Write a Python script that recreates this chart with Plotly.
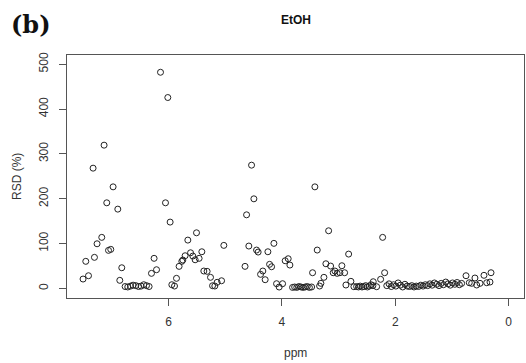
import plotly.graph_objects as go

# ---- data (ppm vs RSD %) ----
ppm_a = [7.507, 7.411, 7.459, 7.330, 7.306, 7.260, 7.177, 7.136, 7.089, 7.058, 7.018, 6.977, 6.894, 6.824, 6.859]
rsd_a = [20.7, 28.1, 60.2, 268.1, 69.1, 99.4, 113.7, 319.4, 190.8, 84.7, 86.9, 226.4, 176.7, 45.9, 17.8]

ppm_b = [6.765, 6.718, 6.670, 6.624, 6.577, 6.529, 6.483, 6.436, 6.388, 6.342]
rsd_b = [4, 3, 5, 7, 6, 4, 5, 8, 6, 4]

ppm_c = [6.300, 6.254, 6.211, 6.141, 6.012, 6.053, 5.971, 5.941, 5.894, 5.859, 5.813, 5.765, 5.747,
         5.707, 5.659, 5.611, 5.571, 5.530, 5.506, 5.460, 5.412, 5.377, 5.319, 5.259, 5.223, 5.183,
         5.142, 5.064, 5.024]
rsd_c = [33.4, 66.9, 41.5, 482.1, 425.7, 190.8, 147.8, 8.0, 5.1, 22.3, 49.0, 60.2, 63.1,
         72.7, 107.6, 79.3, 72.0, 63.7, 123.9, 66.9, 81.6, 38.6, 37.9, 24.5, 5.8, 5.1,
         13.4, 16.9, 95.8]

ppm_d = [4.650, 4.623, 4.583, 4.535, 4.494, 4.447, 4.419, 4.376, 4.336, 4.295, 4.247, 4.217, 4.182,
         4.141, 4.094, 4.048, 3.988, 3.942, 3.889, 3.859]
rsd_d = [49.0, 164.0, 94.3, 274.8, 199.7, 85.4, 80.9, 31.2, 38.6, 19.2, 81.6, 53.5, 48.1,
         100.3, 10.3, 2.9, 10.3, 61.5, 66.0, 51.9]

ppm_e = [3.812, 3.775, 3.738, 3.700, 3.663, 3.626, 3.589, 3.552, 3.515, 3.476]
rsd_e = [2, 3, 2, 4, 3, 2, 3, 4, 2, 3]

ppm_f = [3.459, 3.418, 3.377, 3.335, 3.312, 3.259, 3.224, 3.176, 3.141, 3.095, 3.065, 3.025, 2.977,
         2.942, 2.894, 2.871, 2.823, 2.783, 2.730]
rsd_f = [34.8, 226.4, 85.4, 5.1, 11.1, 24.5, 54.8, 128.4, 49.7, 34.8, 38.6, 33.4, 34.8,
         50.4, 34.8, 7.4, 76.4, 15.6, 3.6]

ppm_g = [2.682, 2.650, 2.619, 2.587, 2.555, 2.523, 2.492, 2.460, 2.428, 2.395,
         2.389, 2.329, 2.259, 2.223, 2.188]
rsd_g = [4, 3, 5, 3, 4, 6, 3, 5, 8, 6,
         14.7, 3.6, 20.1, 113.7, 34.8]

ppm_h = [2.15, 2.11, 2.07, 2.03, 1.99, 1.95, 1.91, 1.87, 1.83, 1.79, 1.75, 1.71, 1.67, 1.63, 1.59,
         1.55, 1.51, 1.47, 1.43, 1.39, 1.35, 1.31, 1.27, 1.23, 1.19, 1.15, 1.11, 1.07, 1.03, 0.99,
         0.95, 0.91, 0.87, 0.83]
rsd_h = [6, 10, 4, 8, 5, 12, 7, 3, 9, 5, 4, 6, 3, 5, 4, 7, 5, 8, 6, 10, 7, 12, 9, 6, 11, 8, 14, 10,
         7, 12, 9, 13, 8, 11]

ppm_i = [0.753, 0.695, 0.653, 0.595, 0.565, 0.506, 0.436, 0.388, 0.330, 0.312]
rsd_i = [28.1, 12.5, 11.1, 23.0, 7.4, 11.1, 29.0, 12.5, 14.0, 34.8]

ppm = ppm_a + ppm_b + ppm_c + ppm_d + ppm_e + ppm_f + ppm_g + ppm_h + ppm_i
rsd = rsd_a + rsd_b + rsd_c + rsd_d + rsd_e + rsd_f + rsd_g + rsd_h + rsd_i

x_ticks = [6, 4, 2, 0]
y_ticks = [0, 100, 200, 300, 400, 500]

W, H = 526, 363
L, R, T, B = 67, 524, 55, 298

fig = go.Figure()
fig.add_trace(go.Scatter(
    x=ppm, y=rsd, mode="markers",
    marker=dict(symbol="circle-open", size=6, color="#222222", line=dict(width=1, color="#222222")),
    hoverinfo="skip", showlegend=False,
))

axis_font = dict(family="Liberation Sans, Arial, sans-serif", size=12, color="#333333")

fig.update_layout(
    width=W, height=H,
    margin=dict(l=L, r=W - R, t=T, b=H - B, pad=0),
    paper_bgcolor="white", plot_bgcolor="white",
    xaxis=dict(range=[7.79, -0.27], tickvals=x_ticks, ticktext=[str(v) for v in x_ticks],
               showgrid=False, zeroline=False, showline=True, mirror=True,
               linecolor="#555555", linewidth=1, ticks="outside", ticklen=7,
               tickcolor="#555555", tickfont=axis_font, ticklabelstandoff=6),
    yaxis=dict(range=[-21.6, 520.6], tickvals=y_ticks, ticktext=[str(v) for v in y_ticks],
               showgrid=False, zeroline=False, showline=True, mirror=True,
               linecolor="#555555", linewidth=1, ticks="outside", ticklen=7,
               tickcolor="#555555", tickfont=axis_font, tickangle=-90, ticklabelstandoff=6),
    annotations=[
        dict(text="<b>EtOH</b>", xref="paper", yref="paper",
             x=0.5, y=(B - 20) / (B - T), xanchor="center", yanchor="middle",
             showarrow=False, font=dict(family="Liberation Sans, Arial, sans-serif", size=12, color="#111111")),
        dict(text="<b>(b)</b>", xref="paper", yref="paper",
             x=(9 - L) / (R - L), y=(B - 25) / (B - T), xanchor="left", yanchor="middle",
             showarrow=False, font=dict(family="DejaVu Serif, Liberation Serif, serif", size=24, color="#111111")),
        dict(text="ppm", xref="paper", yref="paper",
             x=0.5, y=(B - 353) / (B - T), xanchor="center", yanchor="middle",
             showarrow=False, font=axis_font),
        dict(text="RSD (%)", xref="paper", yref="paper",
             x=(17 - L) / (R - L), y=(B - 177) / (B - T), xanchor="center", yanchor="middle",
             textangle=-90, showarrow=False, font=axis_font),
    ],
)

fig.write_html("out.html")
